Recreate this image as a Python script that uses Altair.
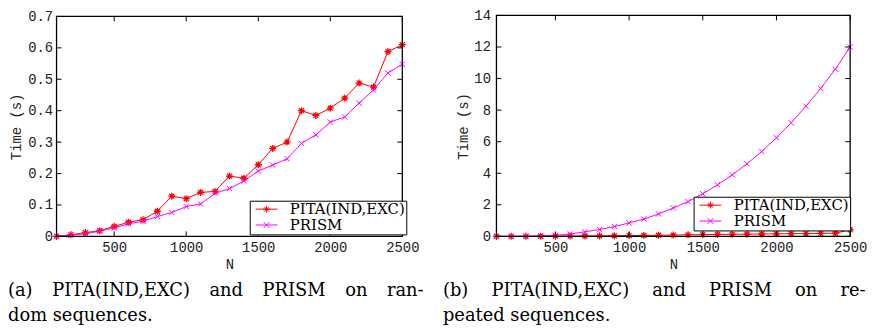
import altair as alt
import pandas as pd

N = list(range(100, 2600, 100))
SERIES = ["PITA(IND,EXC)", "PRISM"]
COLORS = ["#ff0000", "#ff00ff"]

PITA_RANDOM = [0.0, 0.005, 0.012, 0.018, 0.032, 0.045, 0.053, 0.080, 0.128, 0.120,
               0.140, 0.143, 0.192, 0.185, 0.228, 0.280, 0.300, 0.400, 0.385, 0.408,
               0.440, 0.488, 0.475, 0.588, 0.610]
PRISM_RANDOM = [0.0, 0.004, 0.008, 0.017, 0.027, 0.040, 0.048, 0.063, 0.076, 0.095,
                0.103, 0.137, 0.152, 0.176, 0.208, 0.227, 0.247, 0.296, 0.323, 0.364,
                0.380, 0.424, 0.466, 0.520, 0.548]
PITA_REPEATED = [0.0, 0.002, 0.005, 0.008, 0.012, 0.018, 0.025, 0.032, 0.040, 0.050,
                 0.060, 0.070, 0.085, 0.100, 0.110, 0.120, 0.130, 0.140, 0.150, 0.160,
                 0.170, 0.180, 0.190, 0.200, 0.420]
PRISM_REPEATED = [0.0, 0.003, 0.010, 0.030, 0.070, 0.150, 0.290, 0.430, 0.620, 0.850,
                  1.100, 1.420, 1.800, 2.200, 2.700, 3.270, 3.900, 4.600, 5.380, 6.250,
                  7.200, 8.250, 9.380, 10.600, 12.000]

X_DOMAIN = [100, 2500]
X_TICKS = [500, 1000, 1500, 2000, 2500]
Y_TICKS_A = [0, 0.1, 0.2, 0.3, 0.4, 0.5, 0.6, 0.7]
Y_TICKS_B = [0, 2, 4, 6, 8, 10, 12, 14]
X_TITLE = "N"
Y_TITLE = "Time (s)"
GAP_A = "\u2003\u200a"
GAP_B = "\u2003\u2009\u200a"
CAPTION_A = GAP_A.join(["(a)", "PITA(IND,EXC)", "and", "PRISM", "on", "ran-"]) + "\ndom sequences."
CAPTION_B = GAP_B.join(["(b)", "PITA(IND,EXC)", "and", "PRISM", "on", "re-"]) + "\npeated sequences."

# marker glyphs (unit square paths)
AST = "M-1,0L1,0M0,-1L0,1M-0.7,-0.7L0.7,0.7M-0.7,0.7L0.7,-0.7"
XMK = "M-0.8,-0.8L0.8,0.8M-0.8,0.8L0.8,-0.8"
LEG_AST = ("M-1.69,0L1.69,0M-0.54,0L0.54,0M0,-0.54L0,0.54"
           "M-0.38,-0.38L0.38,0.38M-0.38,0.38L0.38,-0.38")
LEG_XMK = "M-1.69,0L1.69,0M-0.46,-0.46L0.46,0.46M-0.46,0.46L0.46,-0.46"

MONO = "Liberation Mono"
SERIF = "DejaVu Serif"

CW, CH = 867, 323  # canvas (page minus 8px margin)

# layout of each panel in canvas pixels
LAY_A = dict(x0=49, x1=398, y0=229, y1=7, lp=4, tp=4, lx=244, ly=193,
             cx=0, cy=289)
LAY_B = dict(x0=493, x1=850, y0=229, y1=6, lp=6, tp=3, lx=692, ly=189,
             cx=439, cy=289)


def panel(pita, prism, yticks, ymax, yfmt, L, caption):
    df = pd.DataFrame({
        "N": N + N,
        "Time": pita + prism,
        "series": [SERIES[0]] * len(N) + [SERIES[1]] * len(N),
    })
    xs = alt.Scale(domain=X_DOMAIN, range=[L["x0"], L["x1"]], nice=False, zero=False)
    ys = alt.Scale(domain=[0, ymax], range=[L["y0"], L["y1"]], nice=False, zero=False)
    cs = alt.Scale(domain=SERIES, range=COLORS)
    xaxis = alt.Axis(orient="bottom", offset=L["y0"] - CH, values=X_TICKS,
                     ticks=False, domain=False, grid=False, labelFlush=False,
                     format="d", labelPadding=4, titlePadding=3)
    yaxis = alt.Axis(orient="left", offset=-L["x0"], values=yticks, ticks=False,
                     domain=False, grid=False, format=yfmt,
                     labelPadding=L["lp"], titlePadding=L["tp"])
    X = alt.X("N:Q", scale=xs, axis=xaxis, title=X_TITLE)
    Y = alt.Y("Time:Q", scale=ys, axis=yaxis, title=Y_TITLE)
    base = alt.Chart(df).encode(x=X, y=Y)

    leg = alt.Legend(title=None, orient="none", legendX=L["lx"], legendY=L["ly"])
    legend_layer = base.mark_point(filled=False, strokeWidth=1, opacity=0).encode(
        color=alt.Color("series:N", scale=cs, legend=leg),
        shape=alt.Shape("series:N",
                        scale=alt.Scale(domain=SERIES, range=[LEG_AST, LEG_XMK]),
                        legend=leg))
    lines = base.mark_line(strokeWidth=1).encode(
        color=alt.Color("series:N", scale=cs, legend=None))
    m1 = base.transform_filter(alt.datum.series == SERIES[0]).mark_point(
        shape=AST, filled=False, size=50, strokeWidth=1.3, opacity=1).encode(
        color=alt.Color("series:N", scale=cs, legend=None))
    m2 = base.transform_filter(alt.datum.series == SERIES[1]).mark_point(
        shape=XMK, filled=False, size=45, strokeWidth=1, opacity=1).encode(
        color=alt.Color("series:N", scale=cs, legend=None))

    tx = pd.DataFrame({"N": X_TICKS})
    ty = pd.DataFrame({"Time": yticks})
    tick_b = alt.Chart(tx).mark_rule(color="black", strokeWidth=1).encode(
        x=X, y=alt.value(L["y0"]), y2=alt.value(L["y0"] - 5))
    tick_t = alt.Chart(tx).mark_rule(color="black", strokeWidth=1).encode(
        x=X, y=alt.value(L["y1"]), y2=alt.value(L["y1"] + 5))
    tick_l = alt.Chart(ty).mark_rule(color="black", strokeWidth=1).encode(
        y=Y, x=alt.value(L["x0"]), x2=alt.value(L["x0"] + 5))
    tick_r = alt.Chart(ty).mark_rule(color="black", strokeWidth=1).encode(
        y=Y, x=alt.value(L["x1"]), x2=alt.value(L["x1"] - 5))

    fdf = pd.DataFrame({"N": [X_DOMAIN[0]], "N_end": [X_DOMAIN[1]],
                        "Time": [0], "Time_end": [ymax]})
    frame = alt.Chart(fdf).mark_rect(fillOpacity=0, stroke="black",
                                     strokeWidth=1.3).encode(
        x=X, x2="N_end:Q", y=Y, y2="Time_end:Q")

    cap = alt.Chart(pd.DataFrame({"t": [caption]})).mark_text(
        align="left", baseline="alphabetic", font=SERIF, fontSize=18,
        lineHeight=25, lineBreak="\n", color="black").encode(
        text="t:N", x=alt.value(L["cx"]), y=alt.value(L["cy"]))

    return alt.layer(legend_layer, lines, m1, m2, tick_b, tick_t, tick_l,
                     tick_r, frame, cap)


A = panel(PITA_RANDOM, PRISM_RANDOM, Y_TICKS_A, 0.7, ".1~f", LAY_A, CAPTION_A)
B = panel(PITA_REPEATED, PRISM_REPEATED, Y_TICKS_B, 14, "d", LAY_B, CAPTION_B)

chart = alt.layer(A, B).resolve_scale(
    x="independent", y="independent", color="independent", shape="independent"
).resolve_axis(x="independent", y="independent").resolve_legend(
    color="independent", shape="independent"
).properties(
    width=CW, height=CH, padding=0, autosize=alt.AutoSizeParams(type="none")
).configure_view(stroke=None).configure_axis(
    labelFont=MONO, labelFontSize=14, labelColor="#222222",
    titleFont=MONO, titleFontSize=14, titleFontWeight="normal", titleColor="#222222"
).configure_legend(
    strokeColor="black", fillColor="white", padding=1,
    labelFont=SERIF, labelFontSize=15, labelColor="black", rowPadding=-5,
    symbolSize=169, symbolStrokeWidth=1, symbolOffset=8.5, labelOffset=16,
    symbolOpacity=1
)

chart.save("out.html", embed_options={"renderer": "svg", "actions": False})
